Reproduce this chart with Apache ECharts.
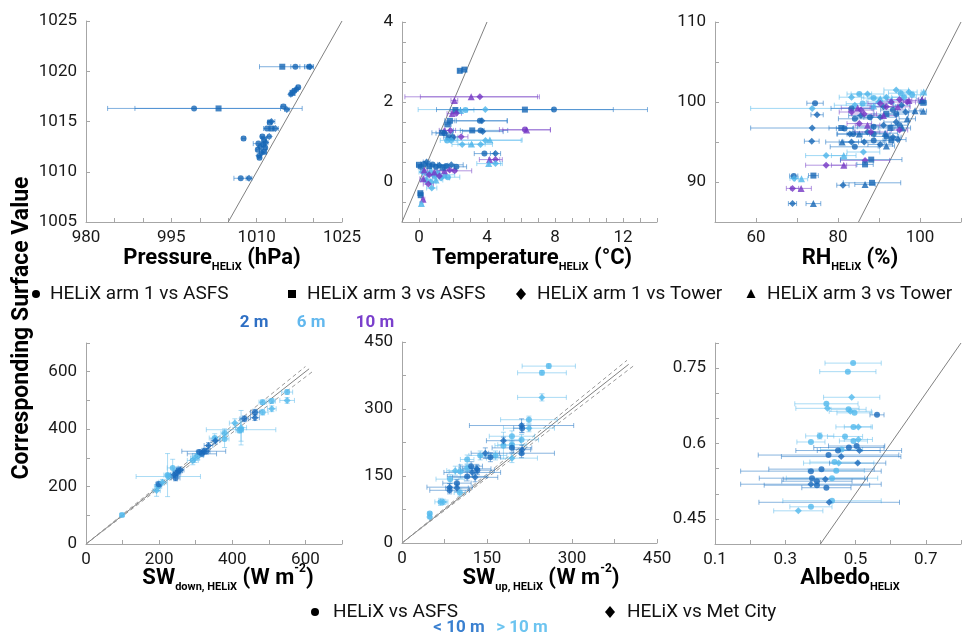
<!DOCTYPE html>
<html>
<head>
<meta charset="utf-8">
<script src="https://cdn.jsdelivr.net/npm/echarts@6/dist/echarts.min.js"></script>
<style>
  html, body { margin: 0; padding: 0; background: #fff; }
  #chart { width: 964px; height: 638px; }
</style>
</head>
<body>
<div id="chart"></div>
<script>
// top row: [x, y, xerr, shape, height m]   shape: c circle, s square, d diamond, t triangle
const pressurePts = [
  [1014.5, 1020.45, 4.0, 's', 2], [1016.8, 1020.45, 0.8, 'c', 2], [1019.2, 1020.45, 0.8, 'c', 2], [1019.4, 1020.45, 0.5, 'd', 2],
  [1017.3, 1018.4, 0.3, 'c', 2], [1017.0, 1018.2, 0.3, 'd', 2], [1016.6, 1018.05, 0.3, 'c', 2], [1016.3, 1017.85, 0.3, 's', 2],
  [1016.0, 1017.7, 0.3, 'd', 2], [999.0, 1016.3, 15.2, 'c', 2], [1003.3, 1016.3, 14.7, 's', 2], [1014.7, 1016.5, 0.4, 'c', 2],
  [1015.3, 1016.2, 0.4, 'd', 2], [1012.6, 1015.0, 0.6, 'd', 2], [1012.3, 1014.9, 0.4, 'c', 2], [1011.8, 1014.3, 0.6, 'c', 2],
  [1012.6, 1014.3, 0.4, 's', 2], [1013.3, 1014.3, 0.5, 'd', 2], [1011.0, 1013.5, 0.3, 'c', 2], [1012.2, 1013.5, 0.3, 'd', 2],
  [1007.7, 1013.3, 0.3, 'c', 2], [1011.3, 1013.2, 0.3, 's', 2], [1011.6, 1012.9, 0.4, 'd', 2], [1010.3, 1012.8, 0.9, 'c', 2],
  [1011.2, 1012.7, 0.3, 'c', 2], [1010.6, 1012.5, 0.3, 'd', 2], [1011.5, 1012.4, 0.3, 'c', 2], [1010.2, 1012.2, 0.3, 'c', 2],
  [1010.9, 1011.9, 0.4, 'd', 2], [1011.3, 1012.0, 0.3, 's', 2], [1010.5, 1011.4, 0.3, 'c', 2], [1010.4, 1011.6, 0.3, 'd', 2],
  [1007.2, 1009.35, 1.2, 'c', 2], [1008.65, 1009.35, 0.5, 'd', 2]
];
const tempPts = [
  [0.2, 0.25, 0.2, 'd', 6], [0.5, 0.2, 0.3, 'c', 6], [0.7, 0.3, 0.4, 't', 6], [0.9, 0.15, 0.4, 'd', 6],
  [1.1, 0.22, 0.5, 'c', 6], [1.3, 0.1, 0.5, 'd', 6], [1.5, 0.18, 0.6, 't', 6], [0.4, 0.05, 0.3, 'c', 6],
  [0.7, 0.0, 0.3, 'd', 6], [1.0, 0.05, 0.4, 't', 6], [1.7, 0.12, 0.7, 'c', 6], [0.75, -0.15, 0.3, 'd', 6],
  [0.3, 0.3, 0.2, 't', 10], [0.6, 0.18, 0.3, 'd', 10], [0.9, 0.25, 0.3, 't', 10], [1.2, 0.15, 0.4, 'd', 10],
  [1.5, 0.28, 0.5, 't', 10], [1.8, 0.3, 0.4, 'd', 10], [2.1, 0.28, 1.0, 'd', 10], [0.25, 0.08, 0.2, 't', 10],
  [0.55, -0.05, 0.3, 'd', 10],
  [0.0, 0.43, 0.15, 's', 2], [0.1, 0.38, 0.15, 'c', 2], [0.3, 0.45, 0.2, 'c', 2], [0.45, 0.5, 0.2, 'd', 2],
  [0.6, 0.4, 0.3, 's', 2], [0.8, 0.44, 0.3, 'c', 2], [1.0, 0.38, 0.4, 'c', 2], [1.2, 0.42, 0.5, 'd', 2],
  [1.4, 0.36, 0.4, 's', 2], [1.6, 0.4, 0.5, 'c', 2], [1.9, 0.43, 0.7, 'd', 2], [2.2, 0.38, 0.6, 'c', 2],
  [0.08, -0.28, 0.1, 's', 2], [0.1, -0.33, 0.1, 's', 2], [0.24, -0.43, 0.1, 't', 10], [0.14, -0.54, 0.1, 't', 6],
  [2.4, 2.78, 0.1, 's', 2], [2.67, 2.81, 0.1, 's', 2], [3.07, 2.13, 3.9, 't', 10], [3.58, 2.13, 3.5, 'd', 10],
  [2.08, 2.04, 0.2, 't', 10], [3.9, 1.81, 3.95, 'd', 6], [2.73, 1.8, 0.5, 'c', 6], [2.44, 1.79, 0.4, 't', 6],
  [6.23, 1.81, 5.2, 's', 2], [7.94, 1.81, 5.5, 'c', 2], [2.14, 1.8, 0.3, 's', 2], [1.95, 1.71, 0.3, 't', 10],
  [2.2, 1.72, 0.3, 'd', 10], [1.81, 1.53, 0.3, 's', 2], [3.58, 1.53, 1.6, 'c', 2], [3.7, 1.53, 1.5, 'd', 2],
  [1.69, 1.44, 0.2, 's', 2], [1.49, 1.29, 0.3, 't', 10], [1.85, 1.29, 0.3, 'd', 10], [3.13, 1.29, 0.7, 's', 2],
  [3.62, 1.29, 1.6, 'c', 2], [3.75, 1.26, 1.2, 'd', 2], [6.23, 1.31, 1.5, 'c', 10], [6.33, 1.3, 1.4, 't', 10],
  [1.36, 1.23, 0.6, 's', 2], [1.5, 1.22, 0.5, 'c', 2], [2.48, 1.13, 0.4, 'd', 10], [1.75, 1.12, 0.3, 's', 2],
  [1.99, 1.12, 0.3, 'c', 2], [1.65, 1.04, 0.4, 'c', 6], [1.89, 1.04, 0.3, 'd', 6], [3.91, 1.04, 2.1, 'd', 6],
  [4.17, 1.05, 1.9, 't', 6], [2.54, 0.94, 0.6, 'd', 6], [3.09, 0.95, 0.8, 't', 6], [3.62, 0.94, 0.7, 'd', 6],
  [3.85, 0.71, 0.6, 'c', 2], [4.5, 0.71, 0.3, 'd', 2], [4.15, 0.56, 0.6, 't', 10], [4.5, 0.56, 0.4, 'd', 10],
  [4.1, 0.46, 0.7, 't', 6], [4.5, 0.46, 0.4, 'd', 6]
];
const rhPts = [
  [74.4, 99.85, 2.0, 'c', 2], [73.7, 99.2, 15, 'd', 6], [74.9, 98.4, 1.5, 'd', 2], [73.7, 96.75, 15, 'd', 2],
  [80.8, 96.75, 3, 's', 2], [81.6, 96.7, 2, 'c', 2], [73.6, 95.1, 1.8, 'd', 2], [77.1, 93.3, 5, 'd', 6],
  [77.1, 92.1, 5, 'd', 10], [81.4, 93.3, 3, 't', 6], [81.4, 92.1, 3, 't', 10], [86.2, 93.75, 4, 'd', 6],
  [86.6, 92.7, 6, 'd', 10], [88.1, 92.8, 7.5, 's', 2], [86.6, 92.2, 2, 's', 2], [69.2, 90.75, 1, 'c', 2],
  [69.3, 90.45, 1, 'd', 6], [71.1, 90.4, 1.5, 't', 6], [74.0, 90.8, 1.2, 's', 2], [68.9, 89.2, 1.5, 'd', 10],
  [71.0, 89.2, 2.5, 't', 10], [68.9, 87.3, 1.0, 'd', 2], [74.0, 87.3, 1.8, 't', 2], [81.2, 89.6, 1.5, 'd', 2],
  [86.6, 89.7, 2.5, 't', 2], [88.3, 89.9, 7, 's', 2],
  [83.3, 100.6, 3, 'd', 6], [85.2, 101.0, 3, 'c', 6], [87.2, 101.0, 4, 'd', 6], [88.7, 100.5, 3, 'c', 6],
  [90.3, 100.4, 3, 't', 6], [91.8, 100.6, 4, 'd', 6], [94.2, 101.5, 3, 'd', 6], [95.3, 101.1, 3, 'c', 6],
  [97.3, 101.25, 2, 'd', 6], [96.1, 100.6, 3, 'c', 6], [93.0, 100.2, 3, 't', 6], [86.0, 99.8, 4, 'c', 6],
  [89.9, 100.0, 3, 'd', 6], [88.7, 99.5, 3, 't', 6], [98.1, 100.9, 2, 'c', 6], [84.1, 99.6, 5, 'd', 6],
  [82.9, 96.0, 3, 'd', 2], [83.7, 96.0, 4, 'c', 2], [85.2, 96.0, 3, 't', 2], [81.0, 95.0, 4, 't', 2],
  [83.3, 95.0, 3, 'd', 2], [86.4, 95.0, 5, 'd', 2], [88.7, 95.2, 3, 'c', 2], [90.3, 94.7, 3, 'd', 2],
  [91.8, 94.5, 2, 't', 2], [84.1, 94.4, 6, 'c', 2], [88.7, 96.0, 4, 'c', 2], [87.2, 96.25, 3, 'd', 2],
  [91.8, 95.7, 3, 'c', 2], [93.4, 95.6, 2, 'd', 2], [93.0, 95.2, 2, 's', 2], [94.6, 95.3, 2, 'd', 2],
  [91.5, 96.1, 3, 't', 2], [88.7, 96.9, 4, 'c', 2], [91.1, 97.1, 3, 'd', 2], [92.8, 96.75, 3, 's', 2],
  [95.0, 97.1, 2, 'c', 2], [95.7, 96.75, 2, 't', 2], [96.9, 97.9, 2, 't', 2], [94.2, 97.5, 3, 'd', 2],
  [84.1, 97.9, 4, 'c', 2], [85.6, 98.3, 3, 'd', 2], [87.8, 98.1, 3, 'c', 2], [90.3, 98.1, 4, 'd', 2],
  [91.8, 98.5, 3, 's', 2], [94.2, 98.5, 3, 'c', 2], [96.5, 98.75, 2, 'd', 2], [83.3, 99.2, 5, 'c', 2],
  [91.1, 99.4, 3, 'd', 2], [93.4, 99.0, 3, 'c', 2], [95.5, 99.6, 2, 'd', 2],
  [83.3, 98.75, 3, 'd', 10], [84.8, 99.25, 4, 't', 10], [85.6, 99.0, 3, 'd', 10], [86.4, 98.5, 3, 'd', 10],
  [85.2, 97.3, 3, 'd', 10], [87.2, 97.1, 3, 't', 10], [90.3, 99.8, 3, 'd', 10], [91.1, 98.3, 3, 't', 10],
  [91.8, 99.4, 4, 'd', 10], [93.0, 100.0, 3, 'd', 10], [94.6, 99.4, 3, 't', 10], [95.0, 100.3, 3, 'd', 10],
  [96.9, 100.0, 2, 'd', 10], [95.0, 96.5, 2, 'd', 10], [88.0, 96.25, 4, 'd', 10], [97.3, 100.2, 2, 't', 10],
  [98.8, 98.9, 1.5, 't', 2], [100.8, 98.85, 0.8, 't', 2], [100.4, 100.2, 0.8, 't', 2], [100.9, 101.25, 0.6, 't', 6],
  [100.5, 100.3, 0.8, 't', 10], [100.8, 99.9, 0.8, 's', 2]
];

// bottom row: [x, y, xerr, yerr, shape, group 0 = <10 m, 1 = >10 m]
const swDownPts = [
  [98.5, 101, 5, 5, 'c', 1], [197, 200, 10, 15, 'c', 1], [193, 186, 10, 20, 'd', 1], [199, 208, 8, 10, 'c', 0],
  [209, 215, 10, 10, 'd', 1], [225, 235, 88, 10, 'c', 1], [223, 240, 10, 75, 'c', 1], [241, 241, 10, 10, 'd', 0],
  [249, 247, 10, 10, 'c', 0], [252, 256, 12, 12, 'c', 0], [258, 258, 10, 10, 'd', 0], [237, 265, 15, 30, 'c', 1],
  [245, 230, 12, 10, 'c', 0], [292, 291, 15, 15, 'c', 1], [298, 299, 12, 15, 'd', 1], [306, 308, 15, 15, 'c', 1],
  [317, 314, 40, 10, 'c', 0], [322, 323, 60, 10, 'd', 0], [329, 323, 10, 10, 'c', 0], [335, 343, 12, 10, 'd', 0],
  [310, 320, 8, 8, 'c', 0], [352, 369, 15, 15, 'c', 1], [354, 360, 12, 12, 'd', 0], [379, 366, 12, 30, 'c', 1],
  [379, 386, 10, 15, 'c', 1], [407, 421, 15, 15, 'd', 1], [424, 398, 95, 40, 'c', 1], [424, 405, 15, 60, 'd', 1],
  [420, 395, 10, 8, 'c', 1], [433, 436, 12, 10, 'c', 0], [462, 459, 12, 10, 'c', 0], [462, 440, 12, 10, 'd', 0],
  [483, 459, 15, 10, 'c', 1], [483, 494, 10, 8, 'c', 1], [508, 471, 12, 10, 'd', 1], [508, 498, 10, 8, 'c', 1],
  [550, 529, 15, 8, 'c', 1], [550, 500, 20, 10, 'd', 1]
];
const swUpPts = [
  [259, 396, 47, 5, 'c', 1], [247, 381, 43, 5, 'c', 1], [247, 326, 43, 8, 'd', 1], [224, 276, 50, 8, 'c', 1],
  [224, 257, 45, 8, 'd', 1], [194, 239, 40, 12, 'c', 1], [211, 231, 30, 12, 'c', 1], [194, 220, 25, 10, 'c', 1],
  [179, 218, 15, 30, 'c', 1], [165, 196, 20, 10, 'c', 1], [138, 196, 20, 10, 'c', 1], [194, 190, 45, 10, 'd', 1],
  [115, 187, 12, 10, 'c', 1], [115, 168, 15, 8, 'c', 1], [103, 160, 20, 15, 'c', 1], [94, 162, 15, 10, 'd', 1],
  [85, 143, 25, 10, 'c', 1], [102, 113, 10, 8, 'c', 1], [68, 92, 10, 8, 'c', 1], [73, 92, 8, 6, 'd', 1],
  [49, 66, 3, 3, 'c', 1], [49, 58, 3, 3, 'd', 1],
  [212, 257, 15, 10, 'c', 0], [211, 263, 92, 15, 'd', 0], [179, 229, 30, 8, 'd', 0], [194, 213, 35, 10, 'c', 0],
  [212, 209, 15, 10, 'd', 0], [211, 201, 58, 10, 'c', 0], [156, 192, 18, 10, 'c', 0], [147, 201, 25, 12, 'd', 0],
  [122, 172, 20, 10, 'c', 0], [132, 166, 25, 10, 'd', 0], [133, 163, 30, 10, 'c', 0], [124, 158, 50, 10, 'd', 0],
  [115, 149, 35, 10, 'c', 0], [129, 147, 40, 10, 'd', 0], [97, 134, 25, 8, 'c', 0], [84, 125, 40, 8, 'd', 0],
  [84, 118, 35, 8, 'c', 0], [97, 123, 20, 8, 'd', 0]
];
const albedoPts = [
  [0.493, 0.760, 0.08, 0, 'c', 1], [0.478, 0.743, 0.08, 0, 'c', 1], [0.489, 0.692, 0.08, 0, 'd', 1],
  [0.417, 0.679, 0.09, 0, 'c', 1], [0.42, 0.670, 0.09, 0, 'd', 1], [0.48, 0.668, 0.05, 0, 'c', 1],
  [0.485, 0.664, 0.06, 0, 'd', 1], [0.497, 0.661, 0.05, 0, 'c', 1], [0.494, 0.633, 0.05, 0, 'c', 1],
  [0.508, 0.633, 0.04, 0, 'd', 1], [0.398, 0.615, 0.04, 0.006, 'c', 1], [0.373, 0.603, 0.04, 0, 'c', 1],
  [0.47, 0.614, 0.05, 0, 'c', 1], [0.494, 0.605, 0.04, 0, 'c', 1], [0.508, 0.608, 0.04, 0, 'd', 1],
  [0.46, 0.588, 0.06, 0, 'c', 1], [0.44, 0.563, 0.07, 0, 'c', 1], [0.452, 0.561, 0.1, 0, 'd', 1],
  [0.445, 0.546, 0.08, 0, 'c', 1], [0.433, 0.531, 0.13, 0, 'c', 1], [0.433, 0.486, 0.14, 0, 'c', 1],
  [0.373, 0.474, 0.06, 0, 'c', 1], [0.337, 0.466, 0.07, 0, 'd', 1],
  [0.561, 0.657, 0.02, 0, 'c', 0], [0.481, 0.592, 0.1, 0, 'c', 0], [0.503, 0.595, 0.08, 0, 'c', 0],
  [0.511, 0.586, 0.12, 0, 'd', 0], [0.45, 0.586, 0.12, 0, 'c', 0], [0.423, 0.577, 0.2, 0, 'c', 0],
  [0.459, 0.574, 0.17, 0, 'd', 0], [0.506, 0.561, 0.08, 0, 'd', 0], [0.373, 0.545, 0.2, 0, 'c', 0],
  [0.403, 0.549, 0.15, 0, 'c', 0], [0.376, 0.531, 0.15, 0, 'c', 0], [0.414, 0.529, 0.12, 0, 'd', 0],
  [0.39, 0.525, 0.1, 0, 'c', 0], [0.373, 0.519, 0.2, 0, 'd', 0], [0.39, 0.517, 0.15, 0, 'c', 0],
  [0.417, 0.512, 0.07, 0, 'c', 0], [0.425, 0.483, 0.2, 0, 'd', 0]
];

// 1:1 lines (and +-3 % for shortwave)
const pressureOneToOne = [[1005, 1005], [1025, 1025]];
const tempOneToOne = [[-1, -1], [4, 4]];
const rhOneToOne = [[85, 85], [110, 110]];
const albedoOneToOne = [[0.4, 0.4], [0.8, 0.8]];
const swDownOneToOne = [[0, 0], [610, 610]];
const swDownUpper = [[0, 0], [600, 618]];
const swDownLower = [[0, 0], [620, 601]];
const swUpOneToOne = [[0, 0], [400, 400]];
const swUpUpper = [[0, 0], [397, 409]];
const swUpLower = [[0, 0], [408, 396]];

const FONT = 'Roboto, "Open Sans", sans-serif';
const SYM = { c: 'circle', s: 'rect', d: 'diamond', t: 'triangle' };
const SIZE = { c: 6, s: 6, d: 7, t: 7 };
const TOP_PT = { 2: '#1766b5', 6: '#4cb4ea', 10: '#7436c4' };
const TOP_ERR = { 2: 'rgba(44,124,200,0.6)', 6: 'rgba(96,190,238,0.6)', 10: 'rgba(128,80,204,0.6)' };
const BOT_PT = ['#1a6abb', '#52b9ec'];
const BOT_ERR = ['rgba(40,120,196,0.55)', 'rgba(100,190,236,0.55)'];
const AXIS_GREY = '#a6a6a6';

const topMarks = pts => pts.map(p => ({ x: p[0], y: p[1], xe: p[2], ye: 0, shape: p[3], color: TOP_PT[p[4]], err: TOP_ERR[p[4]] }));
const botMarks = pts => pts.map(p => ({ x: p[0], y: p[1], xe: p[2], ye: p[3], shape: p[4], color: BOT_PT[p[5]], err: BOT_ERR[p[5]] }));

// error bars + points for one panel
function panelSeries(gi, marks) {
  return [
    {
      type: 'custom', xAxisIndex: gi, yAxisIndex: gi, z: 2, silent: true,
      data: marks.map(m => [m.x, m.y]), encode: { x: 0, y: 1 },
      renderItem: (params, api) => {
        const m = marks[params.dataIndex];
        const st = { stroke: m.err, lineWidth: 1, fill: null };
        const kids = [];
        const seg = (x1, y1, x2, y2) => kids.push({ type: 'line', shape: { x1, y1, x2, y2 }, style: st });
        if (m.xe > 0) {
          const a = api.coord([m.x - m.xe, m.y]), b = api.coord([m.x + m.xe, m.y]);
          seg(a[0], a[1], b[0], b[1]);
          seg(a[0], a[1] - 2.5, a[0], a[1] + 2.5);
          seg(b[0], b[1] - 2.5, b[0], b[1] + 2.5);
        }
        if (m.ye > 0) {
          const a = api.coord([m.x, m.y - m.ye]), b = api.coord([m.x, m.y + m.ye]);
          seg(a[0], a[1], b[0], b[1]);
          seg(a[0] - 2.5, a[1], a[0] + 2.5, a[1]);
          seg(b[0] - 2.5, b[1], b[0] + 2.5, b[1]);
        }
        return { type: 'group', children: kids };
      }
    },
    {
      type: 'scatter', xAxisIndex: gi, yAxisIndex: gi, z: 3, silent: true,
      data: marks.map(m => ({ value: [m.x, m.y], symbol: SYM[m.shape], symbolSize: SIZE[m.shape], itemStyle: { color: m.color } }))
    }
  ];
}

function refLine(gi, pts, dashed) {
  return {
    type: 'line', xAxisIndex: gi, yAxisIndex: gi, data: pts, symbol: 'none', silent: true, z: 1,
    lineStyle: { color: dashed ? '#9a9a9a' : '#808080', width: 1, type: dashed ? [4, 3] : 'solid' }
  };
}

function axis(gi, min, max, interval, show, isY) {
  return {
    type: 'value', gridIndex: gi, min, max, interval,
    axisLine: { show: true, onZero: false, lineStyle: { color: AXIS_GREY } },
    axisTick: { show: true, inside: true, length: 4, lineStyle: { color: AXIS_GREY } },
    splitLine: { show: false },
    axisLabel: {
      color: '#1a1a1a', fontSize: 17, fontFamily: FONT, margin: isY ? 9 : 7,
      showMinLabel: true, showMaxLabel: true,
      formatter: v => show(v) ? String(Math.round(v * 100) / 100) : ''
    }
  };
}

const grids = [
  { left: 86, top: 21, width: 256, height: 201 },
  { left: 402, top: 22, width: 255, height: 200 },
  { left: 715, top: 22, width: 257, height: 200 },
  { left: 86, top: 343, width: 256, height: 201 },
  { left: 402, top: 342, width: 255, height: 201 },
  { left: 715, top: 343, width: 254, height: 201 }
];

const xAxes = [
  axis(0, 980, 1025, 5, v => (v - 980) % 15 === 0),
  axis(1, -1, 14, 1, v => v >= 0 && v % 4 === 0),
  axis(2, 50, 110, 10, v => v === 60 || v === 80 || v === 100),
  axis(3, 0, 700, 100, v => v % 200 === 0),
  axis(4, 0, 450, 75, v => v % 150 === 0),
  axis(5, 0.1, 0.8, 0.1, v => Math.round(v * 10) % 2 === 1)
];
const yAxes = [
  axis(0, 1005, 1025, 5, () => true, true),
  axis(1, -1, 4, 0.5, v => v % 2 === 0, true),
  axis(2, 85, 110, 5, v => v % 10 === 0, true),
  axis(3, 0, 700, 100, v => v % 200 === 0, true),
  axis(4, 0, 450, 75, v => v % 150 === 0, true),
  axis(5, 0.4, 0.8, 0.05, v => [45, 60, 75].includes(Math.round(v * 100)), true)
];

const series = [
  refLine(0, pressureOneToOne), ...panelSeries(0, topMarks(pressurePts)),
  refLine(1, tempOneToOne), ...panelSeries(1, topMarks(tempPts)),
  refLine(2, rhOneToOne), ...panelSeries(2, topMarks(rhPts)),
  refLine(3, swDownOneToOne), refLine(3, swDownUpper, true), refLine(3, swDownLower, true), ...panelSeries(3, botMarks(swDownPts)),
  refLine(4, swUpOneToOne), refLine(4, swUpUpper, true), refLine(4, swUpLower, true), ...panelSeries(4, botMarks(swUpPts)),
  refLine(5, albedoOneToOne), ...panelSeries(5, botMarks(albedoPts))
];

// axis titles with sub / superscripts
const RICH = {
  b: { fontSize: 22, fontWeight: 'bold', fontFamily: FONT, lineHeight: 30, fill: '#000' },
  s: { fontSize: 11, fontWeight: 'bold', fontFamily: FONT, lineHeight: 8, verticalAlign: 'bottom', fill: '#000' },
  p: { fontSize: 12, fontWeight: 'bold', fontFamily: FONT, lineHeight: 16, verticalAlign: 'top', fill: '#000' }
};
const title = (x, y, text) => ({ type: 'text', x, y, silent: true, style: { text, rich: RICH, align: 'center', verticalAlign: 'middle' } });
const plain = (x, y, text, opt) => ({ type: 'text', x, y, silent: true,
  style: Object.assign({ text, fill: '#111', fontSize: 19, fontFamily: FONT, align: 'left', verticalAlign: 'middle' }, opt || {}) });
const dot = (cx, cy) => ({ type: 'circle', silent: true, shape: { cx, cy, r: 4 }, style: { fill: '#000' } });
const sq = (cx, cy) => ({ type: 'rect', silent: true, shape: { x: cx - 4, y: cy - 4, width: 8, height: 8 }, style: { fill: '#000' } });
const dia = (cx, cy) => ({ type: 'polygon', silent: true, shape: { points: [[cx, cy - 6], [cx + 5, cy], [cx, cy + 6], [cx - 5, cy]] }, style: { fill: '#000' } });
const tri = (cx, cy) => ({ type: 'polygon', silent: true, shape: { points: [[cx, cy - 5], [cx + 4.5, cy + 4], [cx - 4.5, cy + 4]] }, style: { fill: '#000' } });

const graphic = [
  title(212, 258, '{b|Pressure}{s|HELiX}{b| (hPa)}'),
  title(532, 258, '{b|Temperature}{s|HELiX}{b| (°C)}'),
  title(850, 258, '{b|RH}{s|HELiX}{b| (%)}'),
  title(228, 578, '{b|SW}{s|down, HELiX}{b| (W m}{p|-2}{b|)}'),
  title(541, 578, '{b|SW}{s|up, HELiX}{b| (W m}{p|-2}{b|)}'),
  title(850, 578, '{b|Albedo}{s|HELiX}'),
  { type: 'text', x: 22, y: 328, rotation: Math.PI / 2, silent: true,
    style: { text: 'Corresponding Surface Value', fill: '#000', fontSize: 23, fontWeight: 'bold', fontFamily: FONT, align: 'center', verticalAlign: 'middle' } },
  dot(36, 294), plain(50, 294, 'HELiX arm 1 vs ASFS'),
  sq(292, 294), plain(307, 294, 'HELiX arm 3 vs ASFS'),
  dia(521, 294), plain(537, 294, 'HELiX arm 1 vs Tower'),
  tri(751, 294), plain(767, 294, 'HELiX arm 3 vs Tower'),
  plain(254, 323, '2 m', { fill: '#2e6fc4', fontWeight: 'bold', fontSize: 17, align: 'center' }),
  plain(311, 323, '6 m', { fill: '#62b8ee', fontWeight: 'bold', fontSize: 17, align: 'center' }),
  plain(375, 323, '10 m', { fill: '#7a3fcc', fontWeight: 'bold', fontSize: 17, align: 'center' }),
  dot(315, 612), plain(333, 612, 'HELiX vs ASFS'),
  dia(610, 612), plain(627, 612, 'HELiX vs Met City'),
  plain(459, 628, '< 10 m', { fill: '#3a80d0', fontWeight: 'bold', fontSize: 17, align: 'center' }),
  plain(522, 628, '> 10 m', { fill: '#6cc4f0', fontWeight: 'bold', fontSize: 17, align: 'center' })
];

const chart = echarts.init(document.getElementById('chart'));
chart.setOption({
  animation: false,
  backgroundColor: '#fff',
  grid: grids,
  xAxis: xAxes,
  yAxis: yAxes,
  series,
  graphic
});
</script>
</body>
</html>
